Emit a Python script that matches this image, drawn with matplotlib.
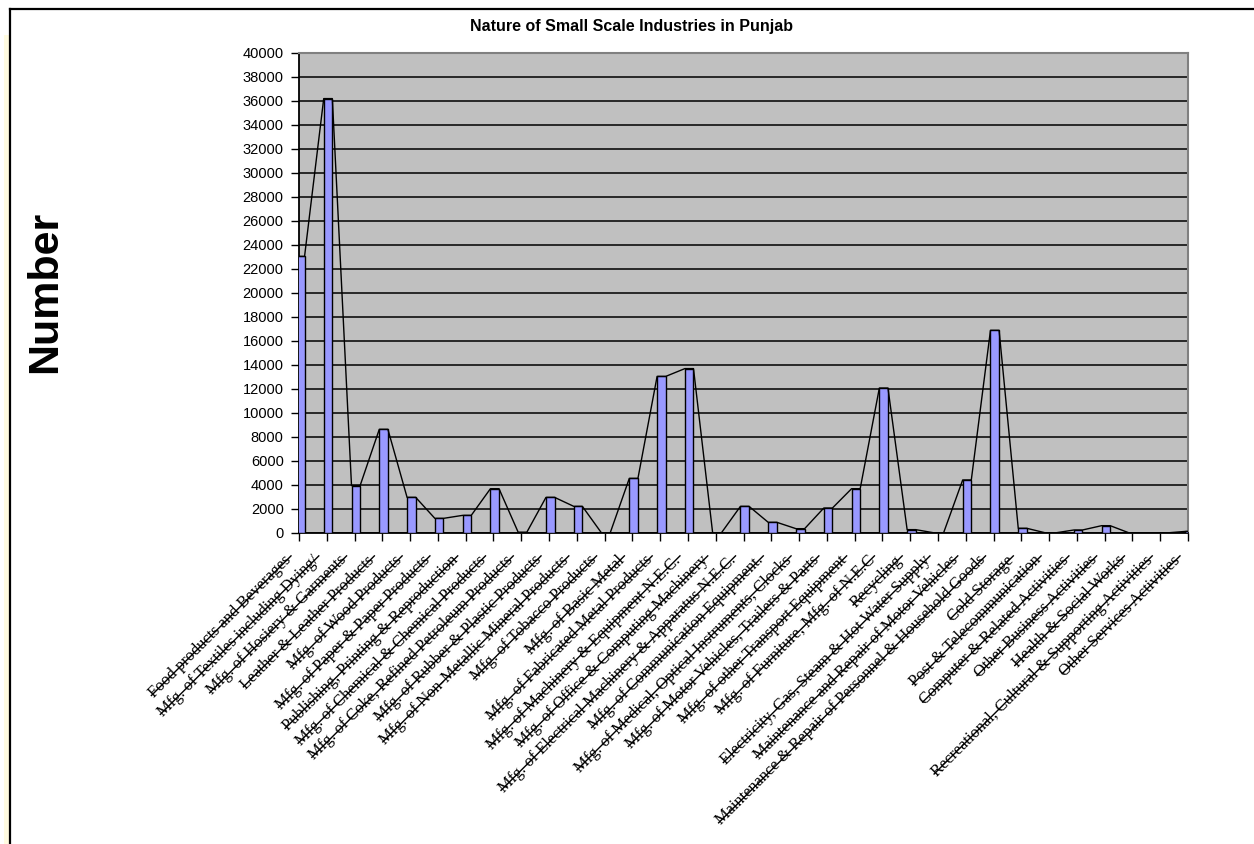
import numpy as np
import matplotlib
matplotlib.use("Agg")
from matplotlib import pyplot as plt
from matplotlib import transforms
from matplotlib.lines import Line2D

categories = [
    "Food products and Beverages",
    "Mfg. of Textiles including Dying/",
    "Mfg. of Hosiery & Garments",
    "Leather & Leather Products",
    "Mfg. of Wood Products",
    "Mfg. of Paper & Paper Products",
    "Publishing, Printing & Reproduction",
    "Mfg. of Chemical & Chemical Products",
    "Mfg. of Coke, Refined Petroleum Products",
    "Mfg. of Rubber & Plastic Products",
    "Mfg. of Non-Metallic Mineral Products",
    "Mfg. of Tobacco Products",
    "Mfg. of Basic Metal",
    "Mfg. of Fabricated Metal Products",
    "Mfg. of Machinery & Equipment N.E.C.",
    "Mfg. of Office & Computing Machinery",
    "Mfg. of Electrical Machinery & Apparatus N.E.C.",
    "Mfg. of Communication Equipment.",
    "Mfg. of Medical, Optical Instruments, Clocks",
    "Mfg. of Motor Vehicles, Trailers & Parts",
    "Mfg. of other Transport Equipment",
    "Mfg. of Furniture, Mfg. of N.E.C",
    "Recycling",
    "Electricity, Gas, Steam & Hot Water Supply",
    "Maintenance and Repair of Motor Vehicles",
    "Maintenance & Repair of Personnel & Household Goods",
    "Cold Storage",
    "Post & Telecommunication",
    "Computer & Related Activities",
    "Other Business Activities",
    "Health & Social Works",
    "Recreational, Cultural & Supporting Activities",
    "Other Services Activities",
]

units = [23050, 36200, 3950, 8640, 2970, 1220, 1470, 3690, 60, 2970,
         2220, 0, 4550, 13050, 13700, 0, 2220, 890, 360, 2080,
         3690, 12080, 280, 0, 4420, 16890, 390, 0, 250, 610,
         0, 0, 130]

y_ticks = list(range(0, 40001, 2000))

W, H = 1254, 844
LABEL_SIZE = 11.8
fig = plt.figure(figsize=(W / 100, H / 100), dpi=100)
fig.patch.set_facecolor("white")

# frame of the chart object
fig.add_artist(Line2D([10 / W, 10 / W], [0, 1 - 9 / H], color="black", lw=1.6))
fig.add_artist(Line2D([10 / W, 1], [1 - 9 / H, 1 - 9 / H], color="black", lw=1.6))
fig.add_artist(plt.Rectangle((4 / W, 0), 5 / W, 1 - 35 / H, color="#fffbe0", lw=0))

ax = fig.add_axes([299 / W, 1 - 533 / H, (1188 - 299) / W, (533 - 53) / H])
ax.set_facecolor("#c0c0c0")

x = np.arange(len(units))
left, right = -0.11, 0.2
ax.bar(x + (left + right) / 2, units, width=right - left, color="#9999ff",
       edgecolor="black", linewidth=1, zorder=3)

# outline joining the bar tops
lx, ly = [], []
for i, v in enumerate(units):
    lx += [i + left, i + right]
    ly += [v, v]
ax.plot(lx, ly, color="black", lw=1, zorder=4)

ax.set_xlim(0, 32)
ax.set_ylim(0, 40000)
ax.set_yticks(y_ticks)
ax.set_yticklabels([str(t) for t in y_ticks], fontfamily="Liberation Sans", fontsize=10.5)
ax.yaxis.grid(True, color="black", lw=1.1)
ax.set_axisbelow(True)
ax.set_xticks(np.arange(0, 33))
ax.set_xticklabels([])
ax.tick_params(axis="both", direction="out", length=6, width=1, color="black")
ax.tick_params(axis="y", pad=5)
for s in ["top", "right"]:
    ax.spines[s].set_color("#808080")
    ax.spines[s].set_linewidth(1.5)
for s in ["left", "bottom"]:
    ax.spines[s].set_color("black")
    ax.spines[s].set_linewidth(1.3)

# rotated category labels with strike line
off = transforms.ScaledTranslation(-24 / 100, -25 / 100, fig.dpi_scale_trans)
trans = transforms.blended_transform_factory(ax.transData, ax.transAxes) + off
labels = []
for i, name in enumerate(categories):
    t = ax.text(i + 0.5, 0, name, transform=trans, rotation=45, ha="right",
                va="center", rotation_mode="anchor", fontfamily="Liberation Serif",
                fontsize=LABEL_SIZE, clip_on=False)
    labels.append(t)

fig.text(632 / W, 1 - 27 / H, "Nature of Small Scale Industries in Punjab",
         ha="center", va="center", fontfamily="Liberation Sans",
         fontweight="bold", fontsize=11.5)
fig.text(45 / W, 1 - 292 / H, "Number", rotation=90, ha="center", va="center",
         fontfamily="Liberation Sans", fontweight="bold", fontsize=31)

fig.canvas.draw()
renderer = fig.canvas.get_renderer()
inv = fig.transFigure.inverted()
for t in labels:
    tmp = fig.text(0, 0, t.get_text(), fontfamily="Liberation Serif", fontsize=LABEL_SIZE)
    w = tmp.get_window_extent(renderer).width
    tmp.remove()
    ax_, ay_ = t.get_transform().transform(t.get_position())
    d = 1 / np.sqrt(2)
    p0 = inv.transform((ax_ - w * d, ay_ - w * d))
    p1 = inv.transform((ax_ + 3 * d, ay_ + 3 * d))
    fig.add_artist(Line2D([p0[0], p1[0]], [p0[1], p1[1]], color="black", lw=1))

fig.savefig("out.png", dpi=100)
